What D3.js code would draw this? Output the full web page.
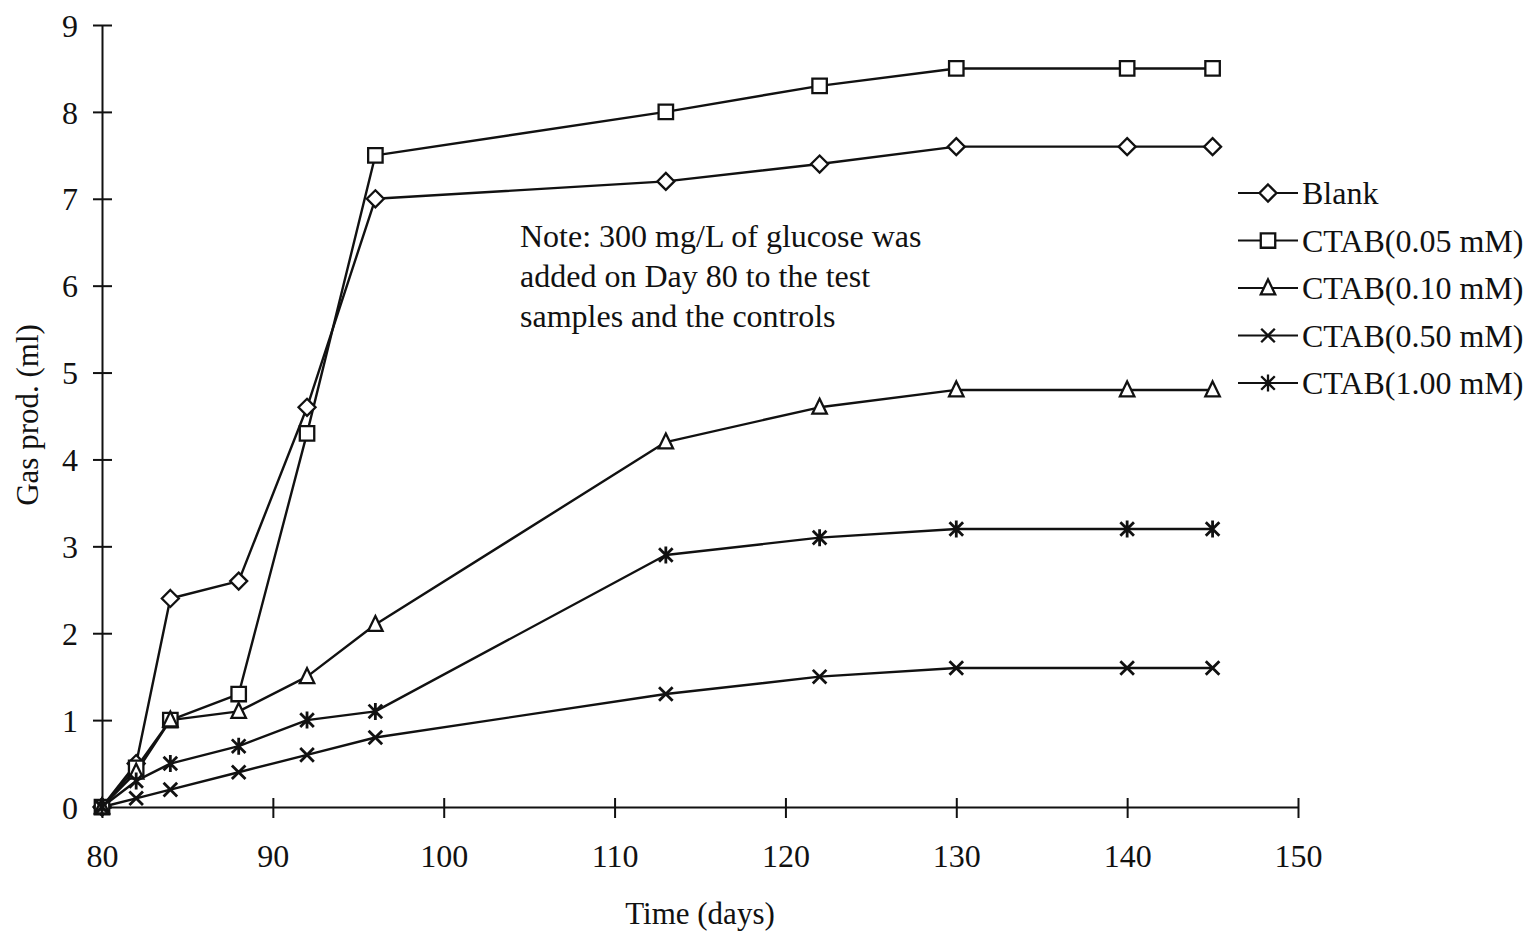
<!DOCTYPE html>
<html>
<head>
<meta charset="utf-8">
<script src="https://cdn.jsdelivr.net/npm/d3@7"></script>
<style>
  html, body { margin: 0; padding: 0; background: #fff; }
  svg { display: block; }
  text { font-family: "Liberation Serif", "Times New Roman", serif; fill: #111; }
</style>
</head>
<body>
<svg id="chart" width="1534" height="932"></svg>
<script>
// Sampling days after glucose addition
const days = [80, 82, 84, 88, 92, 96, 113, 122, 130, 140, 145];

// Cumulative gas production (ml) per treatment
const blank    = [0, 0.5, 2.4, 2.6, 4.6, 7.0, 7.2, 7.4, 7.6, 7.6, 7.6];
const ctab005  = [0, 0.45, 1.0, 1.3, 4.3, 7.5, 8.0, 8.3, 8.5, 8.5, 8.5];
const ctab010  = [0, 0.4, 1.0, 1.1, 1.5, 2.1, 4.2, 4.6, 4.8, 4.8, 4.8];
const ctab050  = [0, 0.1, 0.2, 0.4, 0.6, 0.8, 1.3, 1.5, 1.6, 1.6, 1.6];
const ctab100  = [0, 0.3, 0.5, 0.7, 1.0, 1.1, 2.9, 3.1, 3.2, 3.2, 3.2];

const seriesNames = ["Blank", "CTAB(0.05 mM)", "CTAB(0.10 mM)", "CTAB(0.50 mM)", "CTAB(1.00 mM)"];
const seriesValues = [blank, ctab005, ctab010, ctab050, ctab100];
const markerKinds = ["diamond", "square", "triangle", "times", "asterisk"];

const xTicks = [80, 90, 100, 110, 120, 130, 140, 150];
const yTicks = [0, 1, 2, 3, 4, 5, 6, 7, 8, 9];

const noteLines = [
  "Note: 300 mg/L of glucose was",
  "added on Day 80 to the test",
  "samples and the controls"
];

const ink = "#111";
const svg = d3.select("#chart");

const x = d3.scaleLinear().domain([80, 150]).range([102, 1298]);
const y = d3.scaleLinear().domain([0, 9]).range([807, 25]);

// Custom marker shapes (size = half-width in px)
const shapes = {
  diamond: {draw(c, r) { c.moveTo(0, -r); c.lineTo(r, 0); c.lineTo(0, r); c.lineTo(-r, 0); c.closePath(); }},
  square: {draw(c, r) { c.rect(-r * 0.85, -r * 0.85, r * 1.7, r * 1.7); }},
  triangle: {draw(c, r) { c.moveTo(0, -r); c.lineTo(r * 0.85, r * 0.75); c.lineTo(-r * 0.85, r * 0.75); c.closePath(); }},
  times: {draw(c, r) { const a = r * 0.8; c.moveTo(-a, -a); c.lineTo(a, a); c.moveTo(a, -a); c.lineTo(-a, a); }},
  asterisk: {draw(c, r) {
    const a = r * 0.8;
    c.moveTo(-a, -a); c.lineTo(a, a); c.moveTo(a, -a); c.lineTo(-a, a);
    c.moveTo(0, -r); c.lineTo(0, r);
  }}
};
const markerSize = 8.5;
const sym = kind => d3.symbol().type(shapes[kind]).size(markerSize)();
const hollow = kind => kind === "diamond" || kind === "square" || kind === "triangle";

// Axes
const xAxis = svg.append("g")
  .attr("transform", `translate(0,${y(0)})`)
  .call(d3.axisBottom(x).tickValues(xTicks).tickSize(0).tickPadding(30).tickFormat(d3.format("d")));
const yAxis = svg.append("g")
  .attr("transform", `translate(${x(80)},0)`)
  .call(d3.axisLeft(y).tickValues(yTicks).tickSize(0).tickPadding(24).tickFormat(d3.format("d")));

[xAxis, yAxis].forEach(g => {
  g.select(".domain").attr("stroke", ink).attr("stroke-width", 2);
  g.selectAll("text").attr("font-size", 32).attr("font-family", "Liberation Serif").attr("fill", ink);
});
// Ticks cross the axis line
xAxis.selectAll(".tick line").attr("stroke", ink).attr("stroke-width", 2).attr("y1", -9).attr("y2", 11);
yAxis.selectAll(".tick line").attr("stroke", ink).attr("stroke-width", 2).attr("x1", -9).attr("x2", 10);
xAxis.selectAll(".tick text").attr("dy", "0.95em");
yAxis.selectAll(".tick text").attr("dy", "0.35em");

// Axis titles
svg.append("text")
  .attr("x", 700).attr("y", 924)
  .attr("text-anchor", "middle")
  .attr("font-size", 31)
  .text("Time (days)");
svg.append("text")
  .attr("transform", "translate(38,415) rotate(-90)")
  .attr("text-anchor", "middle")
  .attr("font-size", 31)
  .text("Gas prod. (ml)");

// Series lines
const line = d3.line().x((d, i) => x(days[i])).y(d => y(d));
const plot = svg.append("g");
seriesValues.forEach((vals, k) => {
  plot.append("path")
    .datum(vals)
    .attr("d", line)
    .attr("fill", "none")
    .attr("stroke", ink)
    .attr("stroke-width", 2.4)
    .attr("stroke-linejoin", "round");
});
// Series markers
seriesValues.forEach((vals, k) => {
  const kind = markerKinds[k];
  plot.append("g").selectAll("path")
    .data(vals)
    .join("path")
    .attr("transform", (d, i) => `translate(${x(days[i])},${y(d)})`)
    .attr("d", sym(kind))
    .attr("fill", hollow(kind) ? "#fff" : "none")
    .attr("stroke", ink)
    .attr("stroke-width", kind === "times" || kind === "asterisk" ? 2.8 : 2.3);
});

// Annotation
const note = svg.append("text")
  .attr("x", 520).attr("y", 247)
  .attr("font-size", 32);
noteLines.forEach((t, i) => {
  note.append("tspan").attr("x", 520).attr("dy", i === 0 ? 0 : 40).text(t);
});

// Legend
const legend = svg.append("g");
const legendY0 = 193, legendStep = 47.5;
seriesNames.forEach((name, k) => {
  const gy = legendY0 + k * legendStep;
  const row = legend.append("g").attr("transform", `translate(0,${gy})`);
  row.append("line")
    .attr("x1", 1238).attr("x2", 1298)
    .attr("y1", 0).attr("y2", 0)
    .attr("stroke", ink).attr("stroke-width", 2.2);
  row.append("path")
    .attr("transform", "translate(1268,0)")
    .attr("d", sym(markerKinds[k]))
    .attr("fill", hollow(markerKinds[k]) ? "#fff" : "none")
    .attr("stroke", ink)
    .attr("stroke-width", 2.3);
  row.append("text")
    .attr("x", 1302).attr("y", 0).attr("dy", "0.35em")
    .attr("font-size", 32)
    .text(name);
});
</script>
</body>
</html>
